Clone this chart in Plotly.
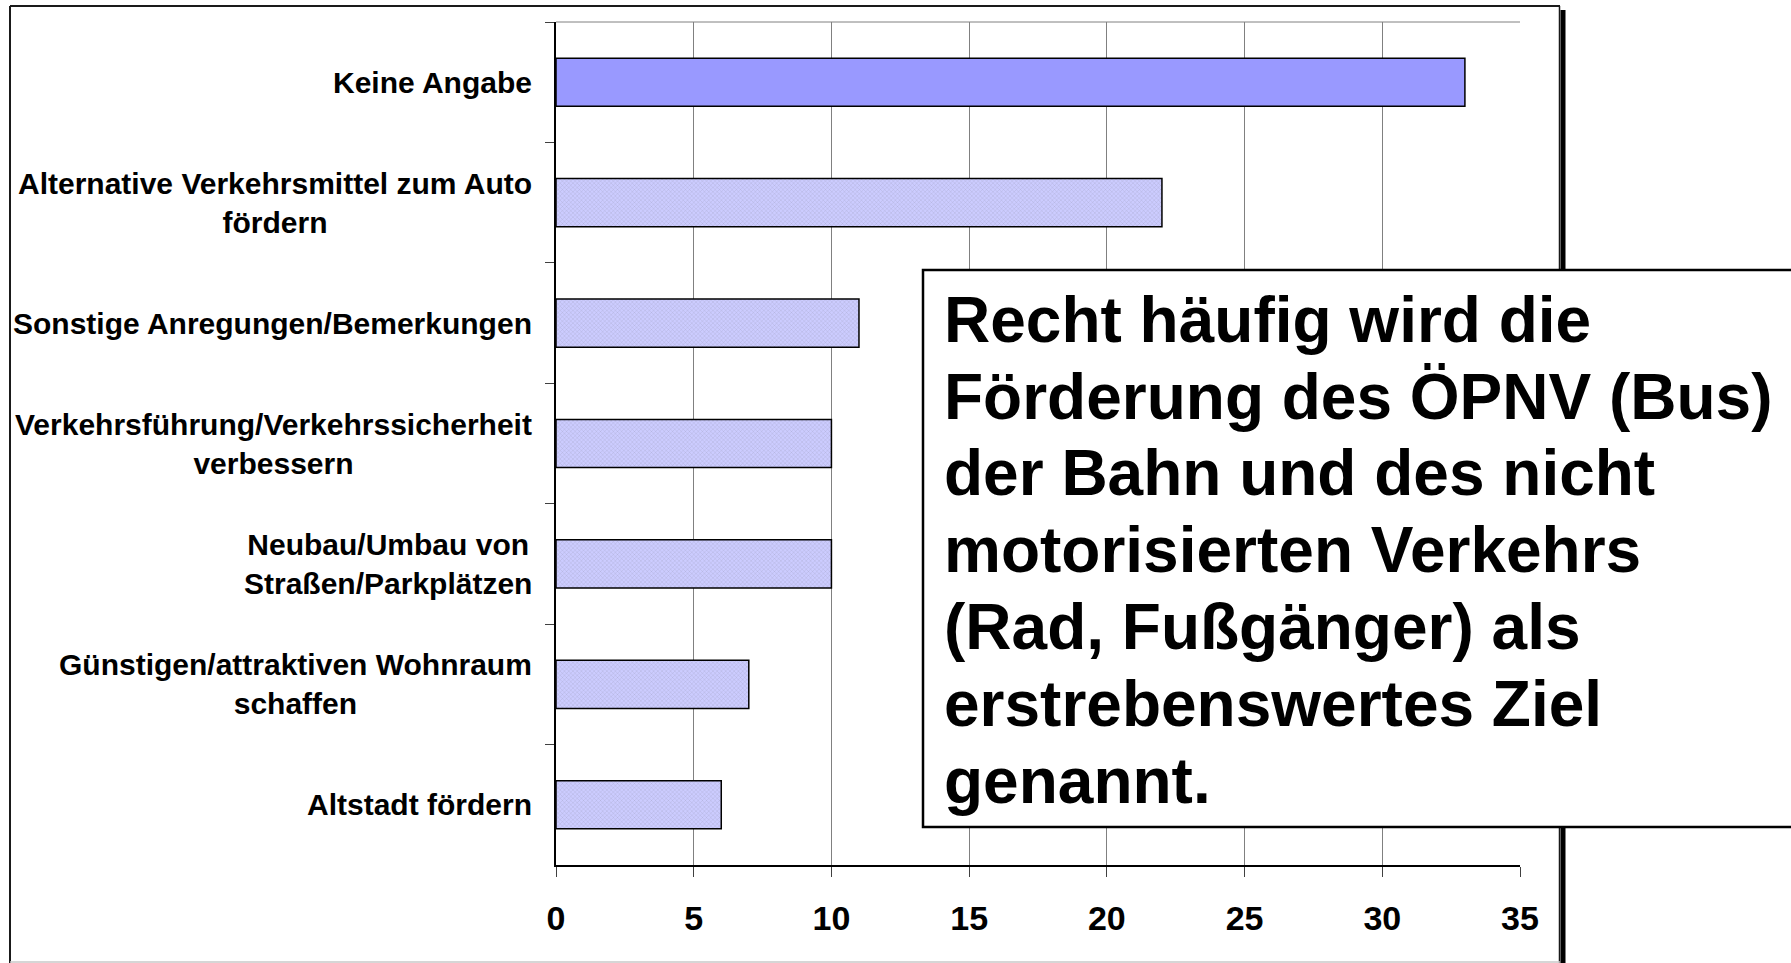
import plotly.graph_objects as go

# Survey categories, listed top to bottom, with the number of mentions
categories = [
    "Keine Angabe",
    "Alternative Verkehrsmittel zum Auto<br>fördern",
    "Sonstige Anregungen/Bemerkungen",
    "Verkehrsführung/Verkehrssicherheit<br>verbessern",
    "Neubau/Umbau von<br>Straßen/Parkplätzen",
    "Günstigen/attraktiven Wohnraum<br>schaffen",
    "Altstadt fördern",
]
counts = [33, 22, 11, 10, 10, 7, 6]
x_ticks = [0, 5, 10, 15, 20, 25, 30, 35]

callout_lines = [
    "Recht häufig wird die",
    "Förderung des ÖPNV (Bus)",
    "der Bahn und des nicht",
    "motorisierten Verkehrs",
    "(Rad, Fußgänger) als",
    "erstrebenswertes Ziel",
    "genannt.",
]

W, H = 1791, 963
ML, MR, MT, MB = 556, 271, 22, 98
PW, PH = W - ML - MR, H - MT - MB

FONT = "Liberation Sans, Arial, sans-serif"


def px_x(px):
    return (px - ML) / PW


def px_y(py):
    return (H - MB - py) / PH


bar_colors = ["#9999FF"] + ["#CCCCFF"] * (len(counts) - 1)
pattern_shapes = [""] + ["x"] * (len(counts) - 1)

fig = go.Figure(
    go.Bar(
        x=counts,
        y=categories,
        orientation="h",
        marker=dict(
            color=bar_colors,
            line=dict(color="black", width=1.5),
            pattern=dict(
                shape=pattern_shapes,
                fgcolor="#C2C2F4",
                bgcolor="#CCCCFF",
                size=3,
                solidity=0.12,
            ),
        ),
        hoverinfo="x+y",
    )
)

fig.update_layout(
    width=W,
    height=H,
    autosize=False,
    margin=dict(l=ML, r=MR, t=MT, b=MB, pad=0),
    paper_bgcolor="white",
    plot_bgcolor="white",
    bargap=0.6,
    showlegend=False,
    font=dict(family=FONT, color="black"),
)

fig.update_xaxes(
    range=[0, 35],
    tickvals=x_ticks,
    ticktext=[str(v) for v in x_ticks],
    showgrid=True,
    gridcolor="#808080",
    gridwidth=1,
    zeroline=False,
    showline=True,
    linecolor="black",
    linewidth=1.5,
    ticks="outside",
    ticklen=10,
    tickcolor="#404040",
    tickwidth=1,
    tickfont=dict(family=FONT, size=34, weight="bold", color="black"),
    ticklabelstandoff=12,
)

fig.update_yaxes(
    type="category",
    categoryorder="array",
    categoryarray=categories,
    autorange="reversed",
    showgrid=False,
    zeroline=False,
    showline=True,
    linecolor="black",
    linewidth=1.5,
    ticks="outside",
    tickson="boundaries",
    ticklen=9,
    tickcolor="#404040",
    showticklabels=False,
)

# Category labels: right-aligned block, lines centred within it
annotations = []
for cat in categories:
    annotations.append(
        dict(
            x=0,
            xref="paper",
            y=cat,
            yref="y",
            xanchor="right",
            yanchor="middle",
            xshift=-22,
            align="center",
            showarrow=False,
            text=cat,
            font=dict(family=FONT, size=30, weight="bold", color="black"),
        )
    )

# Callout text, one annotation per line
first_baseline, line_step, callout_size = 342, 76.8, 64
for i, line in enumerate(callout_lines):
    baseline = first_baseline + i * line_step
    annotations.append(
        dict(
            x=px_x(942),
            xref="paper",
            y=px_y(baseline - 0.3465 * callout_size),
            yref="paper",
            xanchor="left",
            yanchor="middle",
            showarrow=False,
            text=line,
            font=dict(family=FONT, size=callout_size, weight="bold", color="black"),
        )
    )

shapes = [
    # plot area top edge
    dict(type="line", xref="paper", yref="paper", x0=0, x1=1, y0=1, y1=1,
         line=dict(color="#808080", width=1), layer="above"),
    # outer chart frame
    dict(type="line", xref="paper", yref="paper", x0=px_x(10), x1=px_x(1560),
         y0=px_y(6), y1=px_y(6), line=dict(color="#1a1a1a", width=2), layer="above"),
    dict(type="line", xref="paper", yref="paper", x0=px_x(10), x1=px_x(10),
         y0=px_y(6), y1=px_y(970), line=dict(color="#1a1a1a", width=2), layer="above"),
    dict(type="line", xref="paper", yref="paper", x0=px_x(1559.5), x1=px_x(1559.5),
         y0=px_y(6), y1=px_y(970), line=dict(color="#1a1a1a", width=1.5), layer="above"),
    dict(type="rect", xref="paper", yref="paper", x0=px_x(1560.5), x1=px_x(1565.5),
         y0=px_y(10), y1=px_y(970), fillcolor="black", line=dict(width=0), layer="above"),
    dict(type="line", xref="paper", yref="paper", x0=px_x(10), x1=px_x(1560),
         y0=px_y(962), y1=px_y(962), line=dict(color="#c8c8c8", width=1.5), layer="above"),
    # callout box
    dict(type="rect", xref="paper", yref="paper", x0=px_x(923), x1=px_x(1810),
         y0=px_y(270), y1=px_y(827), fillcolor="white",
         line=dict(color="black", width=2.5), layer="above"),
]

fig.update_layout(annotations=annotations, shapes=shapes)

fig.write_html("out.html")
